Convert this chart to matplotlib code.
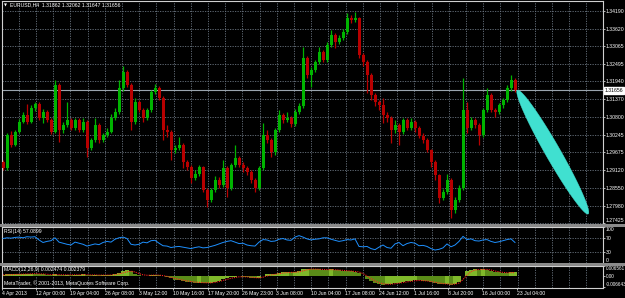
import matplotlib
matplotlib.use("Agg")
import matplotlib.pyplot as plt
import matplotlib.transforms as mtransforms
import numpy as np
from matplotlib.patches import Polygon, Rectangle

# ---------------- data ----------------
header_text = "EURUSD,H4  1.31862 1.32062 1.31647 1.31656"
first_open = 1.2937
closes = [1.2918, 1.3023, 1.2992, 1.3033, 1.3065, 1.3087, 1.3065, 1.3110, 1.3122, 1.3078,
          1.3097, 1.3071, 1.3033, 1.3183, 1.3039, 1.3055, 1.3071, 1.3046, 1.3071, 1.3039,
          1.3065, 1.2982, 1.3007, 1.3055, 1.3007, 1.3023, 1.3033, 1.3078, 1.3097, 1.3173,
          1.3224, 1.3183, 1.3065, 1.3129, 1.3103, 1.3078, 1.3103, 1.3161, 1.3173, 1.3141,
          1.3039, 1.3033, 1.2975, 1.2982, 1.2992, 1.2937, 1.2921, 1.2886, 1.2899, 1.2921,
          1.2848, 1.2816, 1.2848, 1.2880, 1.2864, 1.2918, 1.2854, 1.2928, 1.2950, 1.2928,
          1.2918, 1.2905, 1.2880, 1.2854, 1.2918, 1.3023, 1.3007, 1.2969, 1.3039, 1.3087,
          1.3071, 1.3078, 1.3058, 1.3097, 1.3116, 1.3269, 1.3215, 1.3231, 1.3256, 1.3288,
          1.3263, 1.3310, 1.3342, 1.3320, 1.3333, 1.3352, 1.3397, 1.3390, 1.3397, 1.3279,
          1.3256, 1.3215, 1.3151, 1.3129, 1.3119, 1.3087, 1.3078, 1.3039, 1.3055, 1.3033,
          1.3071, 1.3046, 1.3065, 1.3046, 1.3020, 1.3007, 1.2975, 1.2937, 1.2896, 1.2822,
          1.2841, 1.2880, 1.2784, 1.2816, 1.2854, 1.3103, 1.3046, 1.3071, 1.3055, 1.3023,
          1.3103, 1.3151, 1.3103, 1.3097, 1.3119, 1.3135, 1.3173, 1.3199, 1.3166]
highs = [1.2942, 1.3030, 1.3035, 1.3040, 1.3075, 1.3095, 1.3122, 1.3118, 1.3130, 1.3128,
         1.3105, 1.3103, 1.3078, 1.3199, 1.3190, 1.3065, 1.3129, 1.3078, 1.3078, 1.3078,
         1.3078, 1.3070, 1.3015, 1.3078, 1.3062, 1.3030, 1.3046, 1.3090, 1.3110, 1.3199,
         1.3243, 1.3231, 1.3190, 1.3141, 1.3135, 1.3110, 1.3110, 1.3167, 1.3186, 1.3180,
         1.3148, 1.3055, 1.3040, 1.2992, 1.3016, 1.2998, 1.2944, 1.2928, 1.2910, 1.2928,
         1.2925, 1.2855, 1.2855, 1.2892, 1.2890, 1.2944, 1.2925, 1.2935, 1.2992, 1.2955,
         1.2937, 1.2925, 1.2910, 1.2886, 1.2925, 1.3062, 1.3039, 1.3013, 1.3046, 1.3103,
         1.3093, 1.3097, 1.3084, 1.3105, 1.3125, 1.3304, 1.3275, 1.3240, 1.3263, 1.3304,
         1.3295, 1.3320, 1.3358, 1.3348, 1.3342, 1.3362, 1.3413, 1.3405, 1.3416, 1.3400,
         1.3285, 1.3263, 1.3222, 1.3157, 1.3135, 1.3141, 1.3097, 1.3084, 1.3071, 1.3062,
         1.3078, 1.3078, 1.3078, 1.3071, 1.3052, 1.3030, 1.3013, 1.2980, 1.2944, 1.2900,
         1.2850, 1.2899, 1.2886, 1.2825, 1.2864, 1.3205, 1.3129, 1.3081, 1.3078, 1.3062,
         1.3110, 1.3173, 1.3157, 1.3110, 1.3125, 1.3141, 1.3183, 1.3215, 1.3205]
lows = [1.2910, 1.2912, 1.2985, 1.2988, 1.3028, 1.3060, 1.3058, 1.3060, 1.3100, 1.3070,
        1.3060, 1.3065, 1.3025, 1.3028, 1.3001, 1.3030, 1.3048, 1.3039, 1.3040, 1.3033,
        1.3033, 1.2953, 1.2975, 1.3000, 1.2998, 1.3000, 1.3016, 1.3028, 1.3071, 1.3090,
        1.3165, 1.3176, 1.3039, 1.3058, 1.3095, 1.3065, 1.3071, 1.3097, 1.3155, 1.3135,
        1.3007, 1.3016, 1.2944, 1.2965, 1.2975, 1.2918, 1.2910, 1.2871, 1.2880, 1.2892,
        1.2840, 1.2794, 1.2810, 1.2840, 1.2855, 1.2858, 1.2826, 1.2848, 1.2920, 1.2920,
        1.2905, 1.2895, 1.2870, 1.2841, 1.2848, 1.2912, 1.2998, 1.2953, 1.2960, 1.3033,
        1.3062, 1.3065, 1.3050, 1.3052, 1.3090, 1.3110, 1.3205, 1.3176, 1.3224, 1.3250,
        1.3256, 1.3256, 1.3303, 1.3300, 1.3315, 1.3326, 1.3345, 1.3380, 1.3385, 1.3270,
        1.3243, 1.3157, 1.3135, 1.3116, 1.3103, 1.3062, 1.3065, 1.2998, 1.3030, 1.2992,
        1.3025, 1.3039, 1.3040, 1.3033, 1.3013, 1.2998, 1.2969, 1.2921, 1.2880, 1.2806,
        1.2815, 1.2835, 1.2758, 1.2775, 1.2810, 1.2848, 1.3030, 1.3039, 1.3046, 1.2992,
        1.3016, 1.3097, 1.3095, 1.3081, 1.3090, 1.3110, 1.3129, 1.3165, 1.3160]
rsi_values = [68, 70, 69, 71, 72, 70, 73, 72, 73, 64,
              57, 60, 62, 70, 58, 55, 52, 50, 58, 55,
              52, 47, 50, 53, 51, 57, 60, 58, 66, 70,
              72, 68, 52, 50, 52, 58, 56, 62, 63, 55,
              48, 47, 43, 45, 46, 44, 42, 40, 43, 45,
              42, 43, 46, 49, 53, 57, 60, 62, 58, 54,
              55, 50, 48, 47, 58, 65, 64, 60, 61, 66,
              68, 64, 63, 72, 76, 72, 67, 64, 66, 67,
              70, 70, 66, 63, 60, 62, 65, 64, 67, 46,
              45, 46, 40, 37, 44, 50, 43, 41, 53, 57,
              48, 54, 57, 55, 48, 49, 46, 40, 36, 38,
              42, 53, 45, 50, 60, 74, 65, 67, 62, 61,
              64, 65, 60, 57, 59, 62, 65, 67, 57]
macd_hist_e3 = [1.0, 1.2, 1.3, 1.4, 1.6, 1.7, 1.8, 1.8, 1.7, 1.5,
                1.2, 1.0, 0.9, 1.2, 1.1, 1.0, 1.0, 0.9, 1.0, 1.1,
                1.2, 0.9, 0.8, 0.9, 0.8, 0.8, 0.9, 1.0, 1.4, 2.2,
                3.2, 3.8, 3.5, 1.8, 0.6, 0.4, 0.5, 0.8, 1.0, 0.8,
                0.2, -0.5, -1.2, -2.0, -2.6, -3.0, -3.4, -3.8, -4.0, -4.0,
                -4.2, -4.4, -4.0, -3.4, -2.8, -1.8, -1.2, -0.6, -0.2, 0.0,
                -0.2, -0.4, -0.8, -1.2, -1.0, 0.2, 1.2, 1.6, 1.8, 2.2,
                2.6, 2.7, 2.6, 2.8, 3.2, 4.5, 5.0, 4.8, 4.6, 4.5,
                4.3, 4.2, 4.4, 4.2, 3.9, 3.7, 3.5, 3.2, 3.0, 2.4,
                0.5, -1.5, -3.2, -4.5, -5.0, -5.2, -5.0, -4.8, -4.5, -4.0,
                -3.5, -3.2, -2.8, -2.5, -2.6, -2.8, -3.2, -3.6, -4.0, -4.6,
                -5.0, -4.8, -5.2, -4.8, -3.5, 0.5, 3.2, 4.2, 4.5, 4.3,
                4.4, 4.3, 3.6, 3.0, 2.6, 2.3, 2.2, 2.5, 2.5]
macd_signal_e3 = [0.9, 1.0, 1.1, 1.2, 1.3, 1.4, 1.5, 1.6, 1.7, 1.6,
                  1.5, 1.3, 1.1, 1.1, 1.1, 1.0, 1.0, 1.0, 1.0, 1.0,
                  1.1, 1.0, 0.9, 0.9, 0.8, 0.8, 0.8, 0.9, 1.1, 1.5,
                  2.2, 2.9, 3.3, 2.8, 1.8, 1.0, 0.7, 0.7, 0.8, 0.8,
                  0.5, 0.0, -0.6, -1.3, -1.9, -2.4, -2.9, -3.3, -3.6, -3.8,
                  -4.0, -4.1, -4.1, -3.8, -3.3, -2.6, -1.9, -1.2, -0.7, -0.3,
                  -0.2, -0.3, -0.5, -0.8, -0.9, -0.5, 0.3, 0.9, 1.3, 1.7,
                  2.1, 2.4, 2.5, 2.6, 2.9, 3.5, 4.2, 4.6, 4.6, 4.5,
                  4.4, 4.3, 4.3, 4.2, 4.0, 3.8, 3.6, 3.4, 3.1, 2.8,
                  1.8, 0.3, -1.4, -2.9, -4.0, -4.7, -5.0, -4.9, -4.7, -4.3,
                  -3.9, -3.5, -3.1, -2.8, -2.6, -2.7, -2.9, -3.3, -3.7, -4.2,
                  -4.6, -4.8, -5.0, -4.9, -4.3, -2.0, 0.9, 3.0, 4.0, 4.4,
                  4.4, 4.4, 4.0, 3.4, 2.9, 2.5, 2.3, 2.4, 2.4]
time_labels = ["4 Apr 2013", "12 Apr 00:00", "19 Apr 04:00", "26 Apr 08:00", "3 May 12:00",
               "10 May 16:00", "17 May 20:00", "26 May 23:00", "3 Jun 08:00", "10 Jun 04:00",
               "17 Jun 08:00", "24 Jun 12:00", "1 Jul 16:00", "8 Jul 20:00", "16 Jul 00:00",
               "23 Jul 04:00"]
time_label_bars = [-0.25, 8.25, 16.75, 25.5, 34, 42.5, 51.25, 59.75, 68.25, 77, 85.5, 94,
                   102.75, 111.25, 119.75, 128.5]
price_levels = [1.34190, 1.33620, 1.33065, 1.32495, 1.31940, 1.31370, 1.30800, 1.30245,
                1.29675, 1.29120, 1.28550, 1.27980, 1.27425]
last_price = 1.31656
rsi_label = "RSI(14) 57.0899"
rsi_levels = [100, 70, 30, 0]
macd_label = "MACD(12,26,9) 0.002474 0.002379"
macd_levels = [0.006561, 0.0, -0.006643]
macd_level_labels = ["0.006561", "0.00", "-0.006643"]
copyright_text = "MetaTrader, \u00a9 2001-2013, MetaQuotes Software Corp."
ellipse_start = (128.6, 1.3166)
ellipse_end = (146.3, 1.2771)

# ---------------- style ----------------
plt.rcParams["font.family"] = ["Liberation Sans", "DejaVu Sans"]
W, H = 625, 298
BG = "black"
FG = "white"
GRID = "#6a7480"
UP = "#00b400"
DOWN = "#b80000"
FS = 3.7

def fx(px):
    return px / W

def fy(py):
    return 1 - py / H

fig = plt.figure(figsize=(W / 100, H / 100), dpi=100, facecolor=BG)
ax = fig.add_axes([fx(2), fy(224), fx(603) - fx(2), fy(1) - fy(224)], facecolor=BG)
ax_rsi = fig.add_axes([fx(2), fy(263), fx(603) - fx(2), fy(227) - fy(263)], facecolor=BG)
ax_macd = fig.add_axes([fx(2), fy(288), fx(603) - fx(2), fy(266) - fy(288)], facecolor=BG)

n = len(closes)
x = np.arange(n)
opens = [first_open] + closes[:-1]
xmin, xmax = -0.25, 150.0
grid_x = np.arange(3.95, xmax, 4.3)
gstyle = dict(color=GRID, lw=0.6, ls=(0, (1.5, 1.5)), zorder=0)

for a in (ax, ax_rsi, ax_macd):
    a.set_xlim(xmin, xmax)
    for gx in grid_x:
        a.axvline(gx, **gstyle)
    for s in a.spines.values():
        s.set_color("#d0d0d0")
        s.set_linewidth(0.8)
    a.spines["bottom"].set_visible(False)
    a.tick_params(axis="both", colors=FG, labelsize=FS, length=1.2, width=0.5, pad=0.8)
    a.yaxis.tick_right()
    a.set_xticks([])

# ---- main price panel ----
ax.set_ylim(1.2739, 1.3451)
for p in price_levels:
    ax.axhline(p, **gstyle)
ax.set_yticks(price_levels)
ax.set_yticklabels(["%.5f" % p for p in price_levels])
ax.get_yticklabels()[-1].set_va("bottom")
ax.axhline(last_price, color="#9aa4ae", lw=0.8, zorder=1)

colors = [UP if c >= o else DOWN for o, c in zip(opens, closes)]
ax.vlines(x, lows, highs, colors=colors, lw=0.9, zorder=2)
ax.bar(x, np.array(closes) - np.array(opens), bottom=opens, width=0.75,
       color=colors, linewidth=0, zorder=3)

btrans = mtransforms.blended_transform_factory(ax.transAxes, ax.transData)
ax.text(1.003, last_price, "%.5f" % last_price, transform=btrans, fontsize=FS,
        color="black", va="center", ha="left",
        bbox=dict(boxstyle="square,pad=0.15", fc="white", ec="white"), zorder=10)

# cyan ellipse drawing object
fig.canvas.draw()
p0 = ax.transData.transform(ellipse_start)
p1 = ax.transData.transform(ellipse_end)
c = (p0 + p1) / 2
d = p1 - p0
L = np.hypot(*d) / 2
u = d / np.hypot(*d)
v = np.array([-u[1], u[0]])
t = np.linspace(0, 2 * np.pi, 200)
minor = 7.5
pts = c + np.outer(L * np.cos(t), u) + np.outer(minor * np.sin(t), v)
pts_data = ax.transData.inverted().transform(pts)
ax.add_patch(Polygon(pts_data, closed=True, fc="#40e0d0", ec="#40e0d0", lw=0.3, zorder=5))

ax.text(0.004, 0.982, "\u25bc", transform=ax.transAxes, fontsize=2.8, color=FG, va="center",
        family="DejaVu Sans")
ax.text(0.014, 0.982, header_text, transform=ax.transAxes, fontsize=FS, color=FG, va="center")

# ---- RSI panel ----
ax_rsi.set_ylim(0, 100)
for lv in (70, 30):
    ax_rsi.axhline(lv, **gstyle)
ax_rsi.set_yticks(rsi_levels)
ax_rsi.set_yticklabels([str(v) for v in rsi_levels])
rl = ax_rsi.get_yticklabels()
rl[0].set_va("top")
rl[-1].set_va("bottom")
ax_rsi.plot(x, rsi_values, color="#1e90ff", lw=0.7, zorder=3)
ax_rsi.text(0.004, 0.88, rsi_label, transform=ax_rsi.transAxes, fontsize=FS, color=FG, va="center")

# ---- MACD panel ----
ax_macd.set_ylim(-0.0074, 0.0066)
hist = np.array(macd_hist_e3) / 1000
sig = np.array(macd_signal_e3) / 1000
hcol = ["#7fb82a" if (i == 0 or hist[i] >= hist[i - 1]) else "#5a8c18" for i in range(n)]
ax_macd.bar(x, hist, width=1.0, color=hcol, linewidth=0, zorder=2)
ax_macd.plot(x, sig, color="#ff2020", lw=0.8, ls=(0, (1, 1)), zorder=3)
ax_macd.set_yticks(macd_levels)
ax_macd.set_yticklabels(macd_level_labels)
ax_macd.tick_params(axis="y", labelsize=3.3)
ml = ax_macd.get_yticklabels()
ml[0].set_va("top")
ml[-1].set_va("bottom")
ax_macd.spines["bottom"].set_visible(True)
ax_macd.set_xticks(time_label_bars)
ax_macd.set_xticklabels(time_labels)
for lab in ax_macd.get_xticklabels():
    lab.set_ha("left")
ax_macd.tick_params(axis="x", length=1.2, pad=0.8)
ax_macd.text(0.004, 0.82, macd_label, transform=ax_macd.transAxes, fontsize=FS, color=FG, va="center")
ax_macd.text(0.004, 0.22, copyright_text, transform=ax_macd.transAxes, fontsize=FS, color=FG, va="center")

# panel separators
for ytop in (224, 263):
    fig.patches.append(Rectangle((0, fy(ytop + 3)), 1, 3 / H, transform=fig.transFigure,
                                 fc="#8a8a8a", ec="none", zorder=20))

fig.savefig("out.png", dpi=100, facecolor=BG)
